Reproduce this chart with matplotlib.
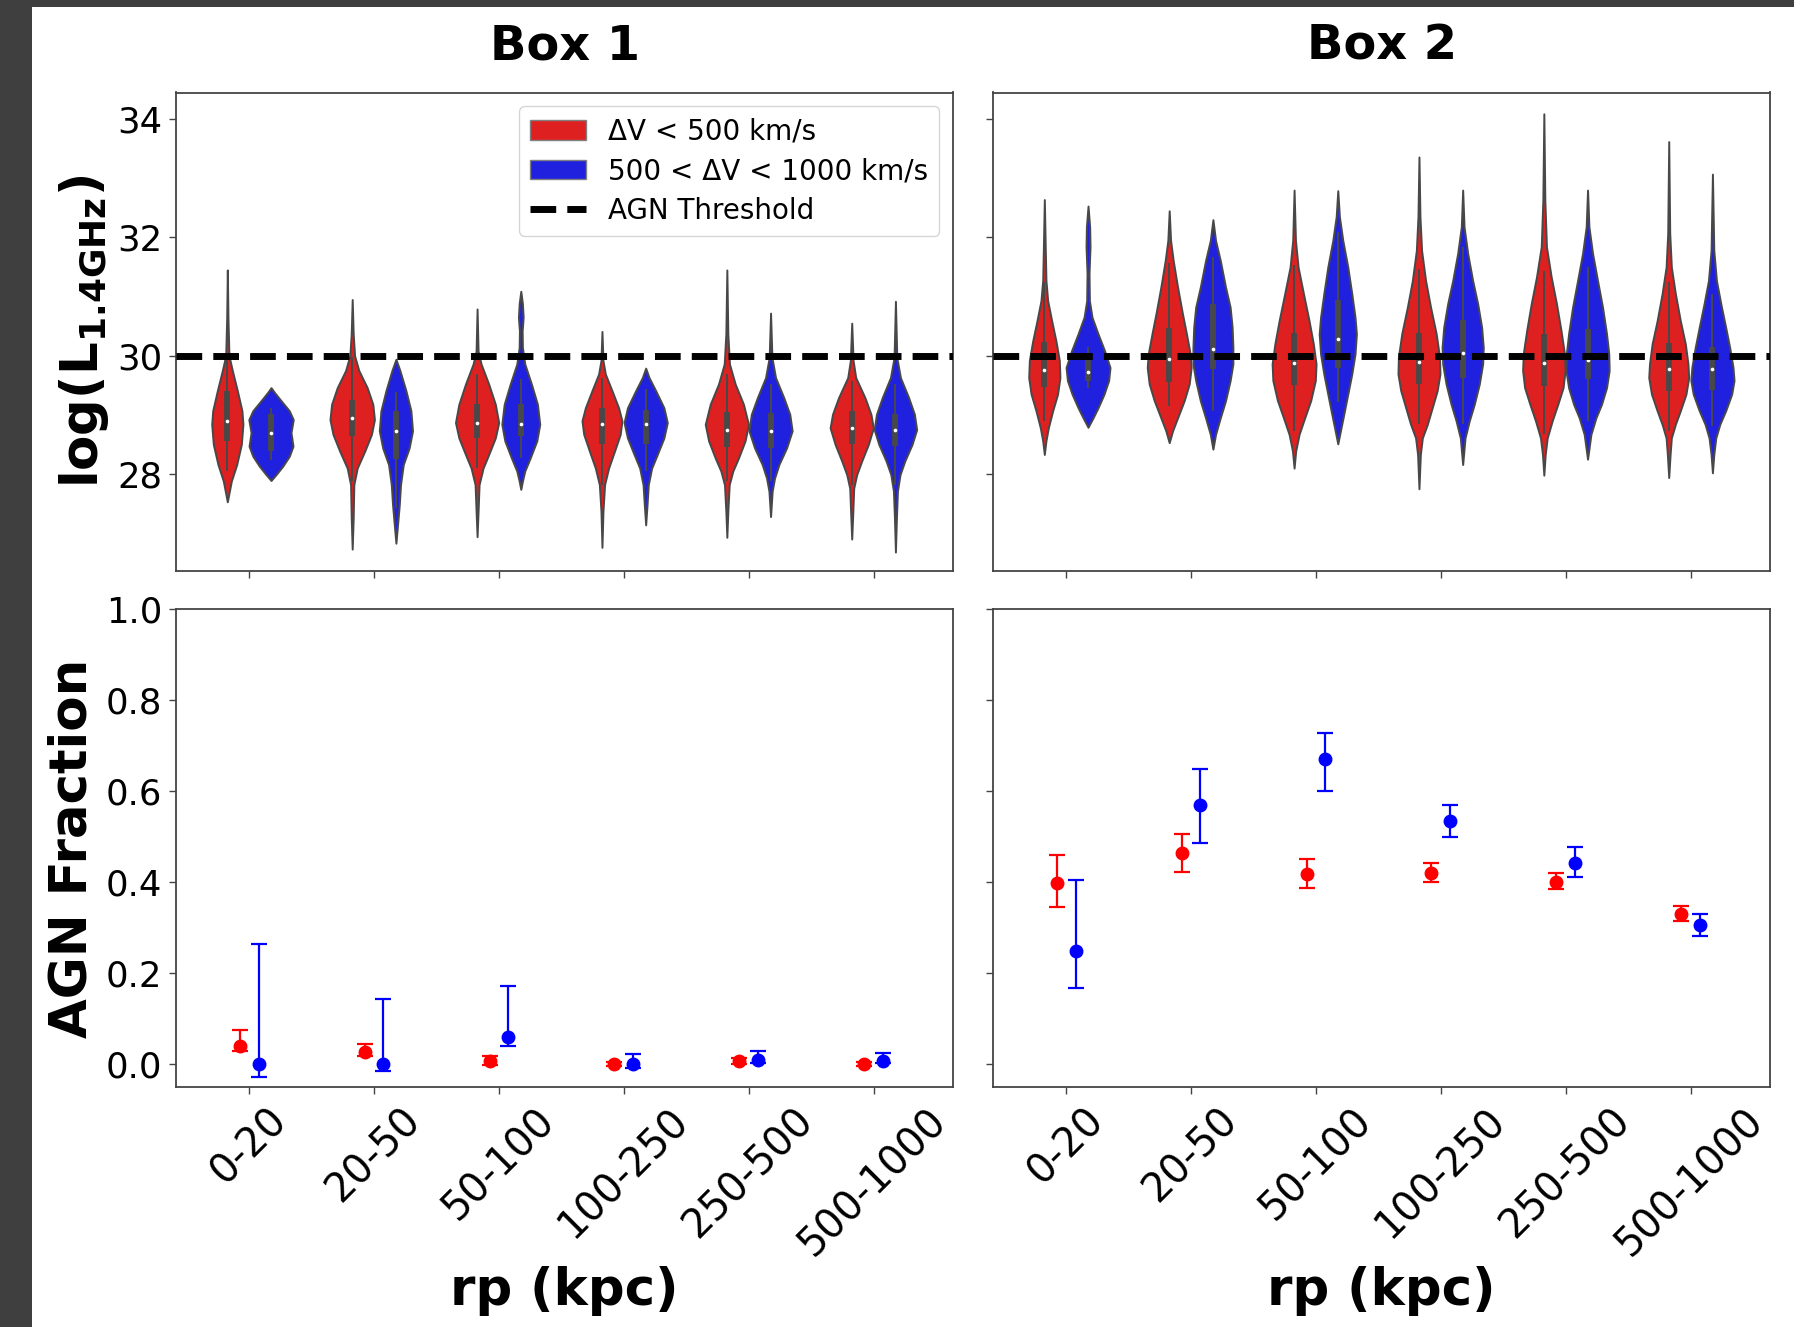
import matplotlib
matplotlib.use("Agg")
import matplotlib.pyplot as plt
from matplotlib.patches import Patch, Rectangle
import numpy as np

# ---------------------------------------------------------------- categories
rp_bins = ["0-20", "20-50", "50-100", "100-250", "250-500", "500-1000"]
labels = ["\u0394V < 500 km/s", "500 < \u0394V < 1000 km/s"]
agn_threshold = 30.0

# ------------------------------------------------- violin density profiles
# Each violin: levels of log(L_1.4GHz) (top to bottom) and the relative
# half-width of the density at those levels; box stats are
# (whisker low, Q1, median, Q3, whisker high).
box1_red_levels = [
    [31.45, 30.65, 30.0, 29.75, 29.41, 29.07, 28.84, 28.50, 28.16, 27.88, 27.65, 27.53],
    [30.95, 30.37, 30.0, 29.75, 29.46, 29.18, 28.92, 28.67, 28.39, 28.10, 27.82, 27.26, 26.73],
    [30.79, 30.08, 29.86, 29.52, 29.18, 28.87, 28.61, 28.33, 28.10, 27.82, 27.37, 26.94],
    [30.41, 29.92, 29.69, 29.41, 29.12, 28.90, 28.67, 28.39, 28.10, 27.82, 27.37, 26.76],
    [31.45, 30.37, 29.86, 29.52, 29.18, 28.84, 28.56, 28.27, 28.05, 27.82, 27.37, 26.93],
    [30.55, 29.92, 29.63, 29.29, 29.01, 28.78, 28.50, 28.22, 27.99, 27.76, 27.31, 26.90],
]
box1_red_density = [
    [0, .005, .013, .04, .08, .117, .125, .112, .075, .032, .011, 0],
    [0, .008, .019, .053, .12, .165, .178, .154, .101, .04, .013, .008, 0],
    [0, .008, .032, .093, .146, .173, .146, .093, .048, .016, .008, 0],
    [0, .008, .027, .08, .133, .16, .146, .101, .053, .021, .008, 0],
    [0, .008, .021, .067, .133, .173, .146, .093, .048, .019, .008, 0],
    [0, .011, .032, .106, .154, .173, .133, .08, .04, .016, .008, 0],
]
box1_red_stats = [
    (28.05, 28.56, 28.90, 29.41, 29.92),
    (27.88, 28.64, 28.95, 29.25, 29.97),
    (28.10, 28.61, 28.87, 29.18, 29.69),
    (27.82, 28.51, 28.84, 29.11, 29.63),
    (27.88, 28.46, 28.75, 29.05, 29.69),
    (27.82, 28.50, 28.78, 29.07, 29.58),
]

box1_blue_levels = [
    [29.46, 29.38, 29.24, 29.07, 28.92, 28.70, 28.47, 28.30, 28.13, 27.99, 27.89],
    [29.94, 29.75, 29.41, 29.07, 28.73, 28.44, 28.16, 27.82, 27.48, 27.14, 26.83],
    [31.09, 30.88, 30.65, 30.42, 30.14, 29.86, 29.52, 29.18, 28.84, 28.56, 28.27, 28.05, 27.88, 27.74],
    [29.79, 29.63, 29.41, 29.12, 28.87, 28.61, 28.33, 28.10, 27.82, 27.48, 27.14],
    [30.72, 29.97, 29.63, 29.29, 29.01, 28.73, 28.44, 28.16, 27.93, 27.71, 27.28],
    [30.92, 29.97, 29.63, 29.29, 29.01, 28.75, 28.50, 28.22, 27.99, 27.71, 27.26, 26.68],
]
box1_blue_density = [
    [0, .027, .08, .146, .178, .16, .176, .146, .093, .04, 0],
    [0, .032, .08, .12, .133, .106, .059, .037, .027, .013, 0],
    [0, .013, .019, .011, .013, .032, .085, .133, .152, .128, .075, .032, .013, 0],
    [0, .027, .08, .146, .173, .146, .093, .048, .021, .011, 0],
    [0, .011, .04, .106, .154, .173, .128, .067, .032, .013, 0],
    [0, .011, .04, .106, .152, .17, .133, .075, .037, .016, .008, 0],
]
box1_blue_stats = [
    (28.23, 28.39, 28.69, 29.01, 29.12),
    (27.42, 28.26, 28.72, 29.07, 29.38),
    (28.27, 28.64, 28.84, 29.19, 29.60),
    (28.05, 28.51, 28.84, 29.08, 29.43),
    (27.88, 28.44, 28.72, 29.03, 29.52),
    (27.82, 28.47, 28.75, 29.02, 29.52),
]

box2_red_levels = [
    [32.64, 31.78, 31.27, 30.93, 30.59, 30.25, 29.92, 29.63, 29.35, 29.07, 28.78, 28.56, 28.33],
    [32.45, 31.95, 31.61, 31.16, 30.71, 30.37, 30.03, 29.80, 29.52, 29.24, 28.95, 28.73, 28.53],
    [32.80, 31.95, 31.50, 31.05, 30.59, 30.20, 29.86, 29.58, 29.24, 28.95, 28.67, 28.39, 28.10],
    [33.36, 32.35, 31.78, 31.27, 30.82, 30.37, 29.97, 29.69, 29.41, 29.12, 28.84, 28.61, 28.33, 27.75],
    [34.09, 32.63, 31.84, 31.33, 30.88, 30.42, 30.03, 29.75, 29.46, 29.18, 28.90, 28.61, 28.33, 27.98],
    [33.62, 32.07, 31.50, 31.05, 30.59, 30.20, 29.86, 29.63, 29.35, 29.07, 28.84, 28.61, 28.33, 27.94],
]
box2_red_density = [
    [0, .008, .013, .027, .059, .093, .12, .125, .106, .067, .032, .013, 0],
    [0, .011, .032, .067, .106, .138, .168, .176, .16, .12, .067, .027, 0],
    [0, .011, .032, .075, .12, .154, .176, .17, .133, .085, .04, .013, 0],
    [0, .008, .021, .053, .093, .138, .165, .168, .146, .106, .067, .027, .011, 0],
    [0, .008, .021, .059, .101, .138, .165, .17, .154, .112, .067, .027, .011, 0],
    [0, .008, .021, .053, .093, .133, .154, .16, .138, .093, .053, .021, .011, 0],
]
box2_red_stats = [
    (28.90, 29.47, 29.76, 30.24, 31.25),
    (29.15, 29.55, 29.94, 30.46, 31.56),
    (28.73, 29.51, 29.88, 30.38, 31.53),
    (28.84, 29.52, 29.89, 30.38, 31.47),
    (28.67, 29.48, 29.87, 30.36, 31.44),
    (28.73, 29.41, 29.77, 30.22, 31.25),
]

box2_blue_levels = [
    [32.53, 32.18, 31.84, 31.39, 30.93, 30.65, 30.37, 30.08, 29.80, 29.58, 29.35, 29.12, 28.95, 28.79],
    [32.30, 31.95, 31.61, 31.16, 30.82, 30.48, 30.14, 29.86, 29.58, 29.24, 28.95, 28.67, 28.42],
    [32.79, 32.35, 31.95, 31.50, 31.05, 30.65, 30.37, 30.03, 29.69, 29.35, 29.01, 28.73, 28.51],
    [32.80, 32.18, 31.73, 31.27, 30.88, 30.48, 30.14, 29.86, 29.52, 29.18, 28.90, 28.61, 28.16],
    [32.80, 32.18, 31.73, 31.27, 30.82, 30.37, 30.03, 29.75, 29.46, 29.18, 28.95, 28.67, 28.25],
    [33.07, 31.78, 31.27, 30.88, 30.48, 30.14, 29.80, 29.58, 29.35, 29.07, 28.84, 28.61, 28.33, 28.02],
]
box2_blue_density = [
    [0, .013, .016, .008, .011, .032, .08, .133, .176, .165, .128, .08, .04, 0],
    [0, .021, .059, .101, .138, .154, .16, .16, .138, .101, .059, .021, 0],
    [0, .013, .04, .08, .112, .138, .149, .138, .112, .08, .048, .021, 0],
    [0, .011, .04, .08, .12, .152, .165, .16, .133, .093, .053, .019, 0],
    [0, .011, .04, .08, .12, .152, .17, .173, .152, .112, .067, .027, 0],
    [0, .011, .032, .067, .106, .138, .165, .173, .154, .106, .059, .027, .011, 0],
]
box2_blue_stats = [
    (29.45, 29.58, 29.73, 30.03, 30.15),
    (29.07, 29.77, 30.11, 30.87, 31.67),
    (29.21, 29.80, 30.28, 30.95, 32.09),
    (28.84, 29.63, 30.04, 30.61, 31.84),
    (28.90, 29.60, 29.93, 30.45, 31.50),
    (28.81, 29.42, 29.77, 30.15, 31.05),
]

# ------------------------------------------------------ AGN fraction values
box1_red_frac = [0.040, 0.027, 0.007, 0.000, 0.007, 0.001]
box1_red_lo = [0.028, 0.018, -0.002, -0.005, -0.001, -0.004]
box1_red_hi = [0.075, 0.045, 0.017, 0.005, 0.013, 0.005]
box1_blue_frac = [0.000, 0.000, 0.059, 0.000, 0.008, 0.007]
box1_blue_lo = [-0.029, -0.015, 0.039, -0.009, 0.002, 0.002]
box1_blue_hi = [0.264, 0.142, 0.172, 0.023, 0.028, 0.024]

box2_red_frac = [0.399, 0.463, 0.417, 0.420, 0.401, 0.330]
box2_red_lo = [0.345, 0.423, 0.386, 0.401, 0.384, 0.315]
box2_red_hi = [0.460, 0.506, 0.450, 0.442, 0.421, 0.347]
box2_blue_frac = [0.248, 0.570, 0.671, 0.534, 0.443, 0.305]
box2_blue_lo = [0.166, 0.485, 0.601, 0.499, 0.412, 0.282]
box2_blue_hi = [0.405, 0.648, 0.729, 0.569, 0.477, 0.330]

# ------------------------------------------------------------------ styling
RED_FILL = "#df2020"
BLUE_FILL = "#2020df"
EDGE = "#484848"
SPINE = "#444444"
VIOLIN_OFFSET = 0.175
POINT_OFFSET = 0.075
XLIM = (-0.586, 5.636)

plt.rcParams["font.family"] = ["DejaVu Sans"]
plt.rcParams["mathtext.fontset"] = "dejavusans"

W, H = 1794, 1327
fig = plt.figure(figsize=(W / 100, H / 100), dpi=100)
fig.patch.set_facecolor("white")
# dark frame strips on the left and top edges
fig.patches.append(Rectangle((0, 0), 32 / W, 1, transform=fig.transFigure,
                             facecolor="#3f3f3f", edgecolor="none", zorder=-10))
fig.patches.append(Rectangle((0, 1 - 7 / H), 1, 7 / H, transform=fig.transFigure,
                             facecolor="#3f3f3f", edgecolor="none", zorder=-10))

left_x, right_x, ax_w = 176 / W, 993 / W, 777 / W
top_y, top_h = 1 - 571 / H, 478.5 / H
bot_y, bot_h = 1 - 1086.7 / H, 477.4 / H

ax_tl = fig.add_axes([left_x, top_y, ax_w, top_h])
ax_tr = fig.add_axes([right_x, top_y, ax_w, top_h])
ax_bl = fig.add_axes([left_x, bot_y, ax_w, bot_h])
ax_br = fig.add_axes([right_x, bot_y, ax_w, bot_h])

xs = np.arange(len(rp_bins))


def draw_violins(ax, levels, density, stats, offset, color):
    for i, (lv, dn, st) in enumerate(zip(levels, density, stats)):
        lv = np.asarray(lv, dtype=float)
        dn = np.asarray(dn, dtype=float)
        order = np.argsort(lv)
        vp = [dict(coords=lv[order], vals=dn[order], mean=st[2], median=st[2],
                   min=lv.min(), max=lv.max())]
        pos = xs[i] + offset
        parts = ax.violin(vp, positions=[pos], widths=[2 * dn.max()],
                          showmeans=False, showextrema=False, showmedians=False)
        for body in parts["bodies"]:
            body.set_facecolor(color)
            body.set_edgecolor(EDGE)
            body.set_linewidth(1.4)
            body.set_alpha(1)
            body.set_zorder(2)
        wlo, q1, med, q3, whi = st
        ax.vlines(pos, wlo, whi, color=EDGE, lw=1.4, zorder=3)
        ax.vlines(pos, q1, q3, color=EDGE, lw=4.2, zorder=3)
        ax.scatter([pos], [med], s=7, color="white", zorder=4, linewidths=0)


def draw_fraction(ax, frac, lo, hi, offset, color):
    frac = np.asarray(frac)
    yerr = [frac - np.asarray(lo), np.asarray(hi) - frac]
    ax.errorbar(xs + offset, frac, yerr=yerr, fmt="o", color=color, ms=9,
                elinewidth=1.6, capsize=6, capthick=1.6, zorder=3)


for ax, red, blue in [
    (ax_tl, (box1_red_levels, box1_red_density, box1_red_stats),
     (box1_blue_levels, box1_blue_density, box1_blue_stats)),
    (ax_tr, (box2_red_levels, box2_red_density, box2_red_stats),
     (box2_blue_levels, box2_blue_density, box2_blue_stats)),
]:
    draw_violins(ax, *red, -VIOLIN_OFFSET, RED_FILL)
    draw_violins(ax, *blue, VIOLIN_OFFSET, BLUE_FILL)
    thr = ax.axhline(agn_threshold, color="black", ls="--", lw=5, zorder=5)
    ax.set_ylim(26.36, 34.45)
    ax.set_yticks([28, 30, 32, 34])

draw_fraction(ax_bl, box1_red_frac, box1_red_lo, box1_red_hi, -POINT_OFFSET, "red")
draw_fraction(ax_bl, box1_blue_frac, box1_blue_lo, box1_blue_hi, POINT_OFFSET, "blue")
draw_fraction(ax_br, box2_red_frac, box2_red_lo, box2_red_hi, -POINT_OFFSET, "red")
draw_fraction(ax_br, box2_blue_frac, box2_blue_lo, box2_blue_hi, POINT_OFFSET, "blue")
for ax in (ax_bl, ax_br):
    ax.set_ylim(-0.05, 1.0)
    ax.set_yticks([0.0, 0.2, 0.4, 0.6, 0.8, 1.0])

for ax in (ax_tl, ax_tr, ax_bl, ax_br):
    ax.set_xlim(*XLIM)
    ax.set_xticks(xs)
    for sp in ax.spines.values():
        sp.set_color(SPINE)
        sp.set_linewidth(1.3)
    ax.tick_params(axis="both", length=5, width=1.0, color=SPINE, pad=5)
    ax.tick_params(axis="y", labelsize=25.5)
    ax.tick_params(axis="x", labelsize=28.5)

ax_tl.set_xticklabels([])
ax_tr.set_xticklabels([])
ax_tr.set_yticklabels([])
ax_br.set_yticklabels([])
for ax in (ax_bl, ax_br):
    ax.set_xticklabels(rp_bins, rotation=45, ha="center")
    ax.set_xlabel("rp (kpc)", fontsize=37, fontweight="bold")
    ax.xaxis.label.set_va("center")
    ax.xaxis.set_label_coords(0.5, -0.428)

ax_tl.set_ylabel(r"log(L$_{\mathbf{1.4GHz}}$)", fontsize=37, fontweight="bold")
ax_tl.yaxis.label.set_va("center")
ax_tl.yaxis.set_label_coords(-0.118, 0.5)
ax_bl.set_ylabel("AGN Fraction", fontsize=37, fontweight="bold")
ax_bl.yaxis.label.set_va("center")
ax_bl.yaxis.set_label_coords(-0.133, 0.5)

for ax, title in [(ax_tl, "Box 1"), (ax_tr, "Box 2")]:
    ax.set_title(title, fontsize=34.5, fontweight="bold", y=1.0976, pad=0,
                 va="center")

handles = [Patch(facecolor=RED_FILL, edgecolor="#808080", label=labels[0]),
           Patch(facecolor=BLUE_FILL, edgecolor="#808080", label=labels[1]),
           thr]
thr.set_label("AGN Threshold")
ax_tl.legend(handles=handles, loc="upper right", fontsize=20, labelspacing=0.42)

fig.savefig("out.png", dpi=100, facecolor=fig.get_facecolor())
